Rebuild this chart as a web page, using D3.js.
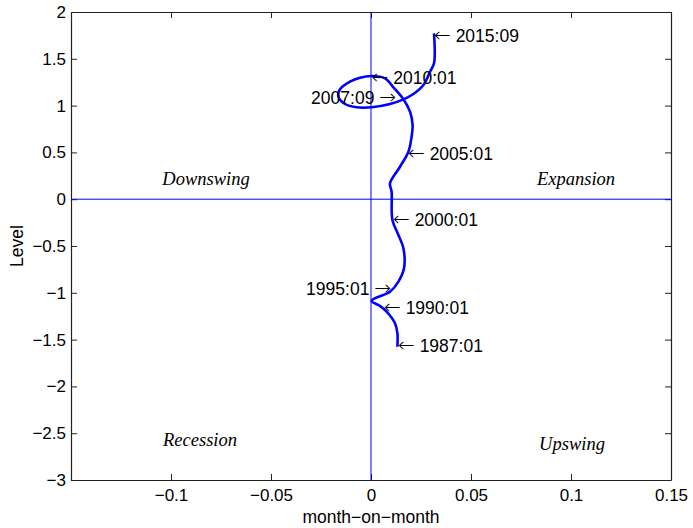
<!DOCTYPE html>
<html>
<head>
    <meta charset="utf-8">
    <title>Level vs month-on-month</title>
    <script src="https://d3js.org/d3.v7.min.js"></script>
    <style>
        body { margin: 0; background: #fff; }
        svg { display: block; }
        .tick text { font-family: "Liberation Sans", Arial, sans-serif; font-size: 17px; fill: #000; }
        .note { font-family: "Liberation Sans", Arial, sans-serif; font-size: 17.5px; fill: #000; }
        .arrow { font-family: "DejaVu Sans"; font-weight: 200; font-size: 20px; }
        .quad { font-family: "Liberation Serif", "Times New Roman", serif; font-style: italic; font-size: 18.5px; fill: #000; }
        .axlabel { font-family: "Liberation Sans", Arial, sans-serif; font-size: 17.5px; fill: #000; }
    </style>
</head>
<body>
    <svg></svg>
    <script>
        // trajectory, 1987:01 -> 2015:09
        const growth = [0.0132, 0.0132, 0.0120, 0.0078, 0.0045, 0.0003, 0.0095, 0.0137, 0.0165, 0.0162,
                        0.0137, 0.0107, 0.0103, 0.0095, 0.0145, 0.0187, 0.0203, 0.0208, 0.0195, 0.0162,
                        0.0112, 0.0070, 0.0003, -0.0055, -0.0105, -0.0155, -0.0163, -0.0130, -0.0072, 0.0003,
                        0.0095, 0.0162, 0.0212, 0.0262, 0.0295, 0.0315, 0.0315];
        const level = [-1.576, -1.433, -1.326, -1.200, -1.141, -1.084, -0.988, -0.880, -0.738, -0.525,
                       -0.382, -0.222, 0.080, 0.170, 0.347, 0.507, 0.668, 0.793, 0.935, 1.067,
                       1.195, 1.292, 1.316, 1.298, 1.256, 1.174, 1.095, 1.017, 0.982, 0.982,
                       1.017, 1.067, 1.124, 1.220, 1.362, 1.452, 1.772];

        // date annotations: text, anchor x, anchor y, arrow side
        const noteText = ["2015:09", "2010:01", "2007:09", "2005:01", "2000:01", "1995:01", "1990:01", "1987:01"];
        const noteX = [0.0315, 0.0003, 0.0125, 0.0185, 0.0110, 0.0100, 0.0065, 0.0135];
        const noteY = [1.75, 1.30, 1.08, 0.483, -0.222, -0.96, -1.165, -1.565];
        const noteSide = ["left", "left", "right", "left", "left", "right", "left", "left"];

        // quadrant names
        const quadText = ["Downswing", "Expansion", "Recession", "Upswing"];
        const quadX = [-0.0825, 0.1025, -0.0855, 0.1005];
        const quadY = [0.226, 0.226, -2.57, -2.615];

        const xTicks = [-0.1, -0.05, 0, 0.05, 0.1, 0.15];
        const yTicks = [-3, -2.5, -2, -1.5, -1, -0.5, 0, 0.5, 1, 1.5, 2];

        const width = 693, height = 528;
        const margin = { left: 71, right: 22, top: 12, bottom: 48 };

        const svg = d3.select("svg")
            .attr("width", width)
            .attr("height", height);

        const x = d3.scaleLinear().domain([-0.15, 0.15]).range([margin.left, width - margin.right]);
        const y = d3.scaleLinear().domain([-3, 2]).range([height - margin.bottom, margin.top]);

        const fmt = d => d3.format("")(d);

        // axes with inward ticks (box on)
        const axColor = "#222";
        const axB = svg.append("g")
            .attr("transform", `translate(0,${y(-3)})`)
            .call(d3.axisBottom(x).tickValues(xTicks).tickSizeInner(-6).tickSizeOuter(0).tickPadding(9).tickFormat(fmt));
        const axT = svg.append("g")
            .attr("transform", `translate(0,${y(2)})`)
            .call(d3.axisTop(x).tickValues(xTicks).tickSizeInner(-6).tickSizeOuter(0).tickFormat(""));
        const axL = svg.append("g")
            .attr("transform", `translate(${x(-0.15)},0)`)
            .call(d3.axisLeft(y).tickValues(yTicks).tickSizeInner(-6).tickSizeOuter(0).tickPadding(5).tickFormat(fmt));
        const axR = svg.append("g")
            .attr("transform", `translate(${x(0.15)},0)`)
            .call(d3.axisRight(y).tickValues(yTicks).tickSizeInner(-6).tickSizeOuter(0).tickFormat(""));

        [axB, axT, axL, axR].forEach(g => {
            g.select(".domain").attr("stroke", axColor).attr("stroke-width", 1.2);
            g.selectAll(".tick line").attr("stroke", axColor);
        });

        // zero lines
        svg.append("line")
            .attr("x1", x(-0.15)).attr("x2", x(0.15))
            .attr("y1", y(0)).attr("y2", y(0))
            .attr("stroke", "#0000ff").attr("stroke-width", 1);
        svg.append("line")
            .attr("x1", x(0)).attr("x2", x(0))
            .attr("y1", y(-3)).attr("y2", y(2))
            .attr("stroke", "#0000ff").attr("stroke-width", 1);

        // trajectory
        const line = d3.line()
            .x((d, i) => x(growth[i]))
            .y((d, i) => y(level[i]))
            .curve(d3.curveCatmullRom.alpha(0.5));

        svg.append("path")
            .datum(level)
            .attr("d", line)
            .attr("fill", "none")
            .attr("stroke", "#0000ff")
            .attr("stroke-width", 2.6)
            .attr("stroke-linejoin", "round");

        // date notes
        noteText.forEach((t, i) => {
            const txt = svg.append("text")
                .attr("class", "note")
                .attr("x", x(noteX[i]))
                .attr("y", y(noteY[i]))
                .attr("dy", "0.35em");
            if (noteSide[i] === "left") {
                txt.attr("text-anchor", "start");
                txt.append("tspan").attr("class", "arrow").text("\u2190");
                txt.append("tspan").text(" " + t);
            } else {
                txt.attr("text-anchor", "end");
                txt.append("tspan").text(t + " ");
                txt.append("tspan").attr("class", "arrow").text("\u2192");
            }
        });

        // quadrant names
        quadText.forEach((t, i) => {
            svg.append("text")
                .attr("class", "quad")
                .attr("x", x(quadX[i]))
                .attr("y", y(quadY[i]))
                .attr("dy", "0.35em")
                .attr("text-anchor", "middle")
                .text(t);
        });

        // axis labels
        svg.append("text")
            .attr("class", "axlabel")
            .attr("x", x(0))
            .attr("y", 523)
            .attr("text-anchor", "middle")
            .text("month\u2212on\u2212month");

        svg.append("text")
            .attr("class", "axlabel")
            .attr("transform", `translate(23,${(y(-3) + y(2)) / 2}) rotate(-90)`)
            .attr("text-anchor", "middle")
            .text("Level");
    </script>
</body>
</html>
